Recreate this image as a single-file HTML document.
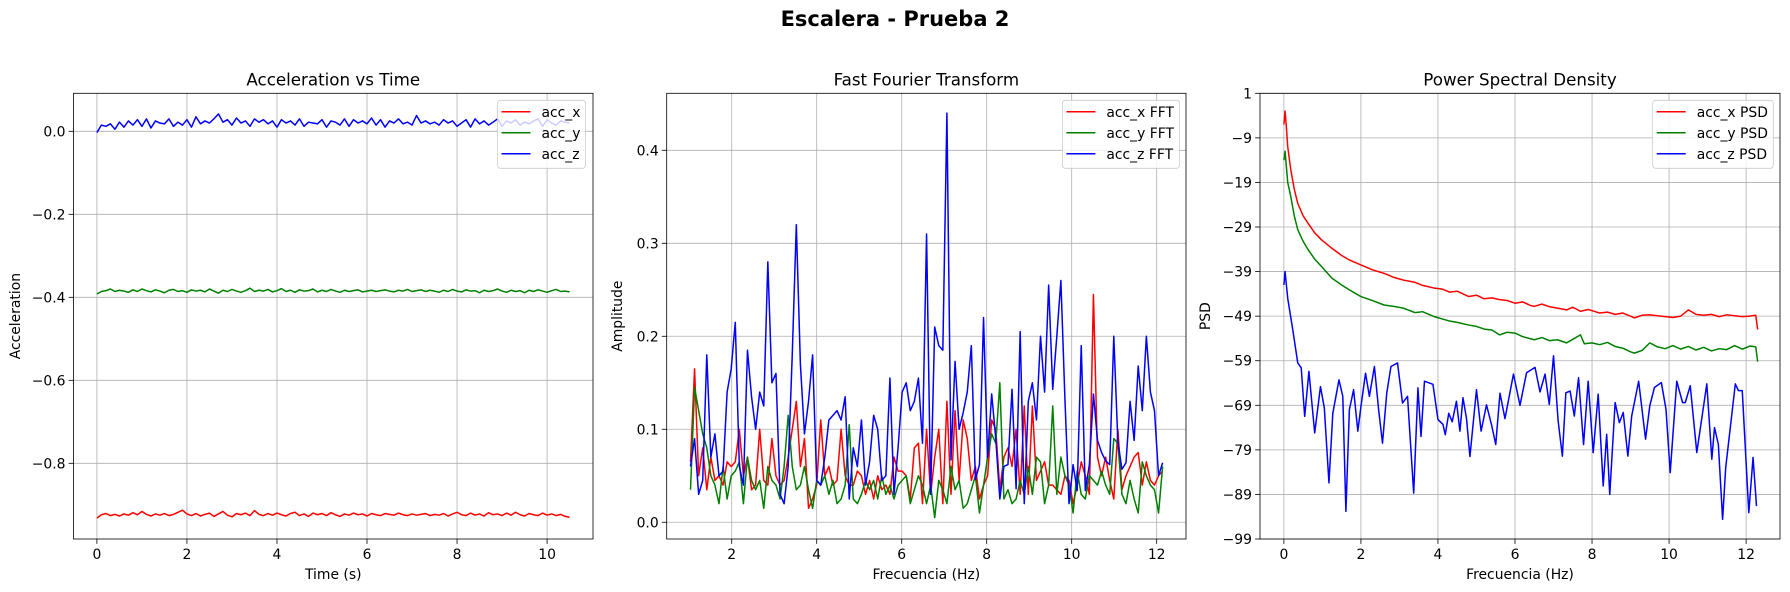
<!DOCTYPE html>
<html><head><meta charset="utf-8">
<style>
html,body{margin:0;padding:0;background:#fff;}
svg{display:block;font-family:"DejaVu Sans","Liberation Sans",sans-serif;}
</style></head>
<body>
<svg id="fig" width="1790" height="592" viewBox="0 0 1790 592" xmlns="http://www.w3.org/2000/svg">
<rect width="1790" height="592" fill="#fff"/>
<text x="895" y="26" text-anchor="middle" font-size="21" font-weight="bold">Escalera - Prueba 2</text>
</svg>
<script>
// ---------- Panel 1: acceleration vs time ----------
const accZ=[-0.003,0.015,0.012,0.018,0.005,0.022,0.01,0.025,0.015,0.028,0.012,0.03,0.008,0.025,0.02,0.018,0.03,0.012,0.022,0.015,0.028,0.01,0.035,0.018,0.025,0.02,0.03,0.042,0.022,0.028,0.015,0.032,0.02,0.025,0.012,0.03,0.022,0.028,0.018,0.025,0.01,0.028,0.02,0.025,0.015,0.03,0.012,0.022,0.02,0.018,0.028,0.01,0.025,0.022,0.015,0.03,0.012,0.028,0.02,0.025,0.018,0.032,0.015,0.028,0.01,0.025,0.02,0.03,0.018,0.022,0.015,0.038,0.02,0.025,0.018,0.022,0.015,0.028,0.02,0.025,0.012,0.02,0.028,0.01,0.03,0.018,0.025,0.015,0.022,0.03,0.012,0.025,0.02,0.028,0.015,0.022,0.018,0.025,0.03,0.012,0.028,0.02,0.015,0.025,0.022,0.02];
const accY=[-0.392,-0.386,-0.384,-0.38,-0.386,-0.383,-0.385,-0.388,-0.382,-0.386,-0.38,-0.384,-0.387,-0.382,-0.385,-0.389,-0.383,-0.381,-0.386,-0.384,-0.388,-0.382,-0.385,-0.383,-0.387,-0.38,-0.385,-0.39,-0.383,-0.386,-0.381,-0.385,-0.388,-0.384,-0.378,-0.386,-0.383,-0.385,-0.381,-0.387,-0.384,-0.379,-0.386,-0.383,-0.388,-0.382,-0.385,-0.384,-0.38,-0.387,-0.383,-0.386,-0.381,-0.385,-0.388,-0.383,-0.386,-0.384,-0.382,-0.387,-0.385,-0.383,-0.386,-0.384,-0.382,-0.385,-0.387,-0.383,-0.385,-0.381,-0.386,-0.384,-0.382,-0.386,-0.383,-0.385,-0.388,-0.383,-0.386,-0.381,-0.385,-0.387,-0.382,-0.385,-0.384,-0.389,-0.383,-0.386,-0.384,-0.38,-0.385,-0.388,-0.383,-0.386,-0.384,-0.389,-0.383,-0.386,-0.382,-0.385,-0.388,-0.384,-0.381,-0.386,-0.385,-0.387];
const accX=[-0.932,-0.924,-0.921,-0.926,-0.923,-0.927,-0.922,-0.925,-0.919,-0.924,-0.916,-0.923,-0.927,-0.922,-0.925,-0.921,-0.926,-0.923,-0.918,-0.913,-0.922,-0.926,-0.921,-0.927,-0.923,-0.92,-0.928,-0.922,-0.916,-0.925,-0.929,-0.921,-0.924,-0.92,-0.926,-0.914,-0.923,-0.926,-0.921,-0.925,-0.92,-0.924,-0.927,-0.921,-0.918,-0.926,-0.922,-0.928,-0.92,-0.924,-0.921,-0.926,-0.919,-0.924,-0.928,-0.922,-0.925,-0.92,-0.924,-0.922,-0.927,-0.921,-0.924,-0.926,-0.921,-0.923,-0.925,-0.92,-0.924,-0.926,-0.922,-0.925,-0.923,-0.921,-0.926,-0.923,-0.925,-0.921,-0.927,-0.922,-0.918,-0.924,-0.926,-0.92,-0.925,-0.922,-0.927,-0.919,-0.924,-0.922,-0.926,-0.92,-0.925,-0.918,-0.924,-0.927,-0.921,-0.924,-0.926,-0.92,-0.925,-0.922,-0.926,-0.923,-0.928,-0.93];
const timeStart=0, timeEnd=10.5;
const accXTicks=[0,2,4,6,8,10];
const accYTicks=[0,-0.2,-0.4,-0.6,-0.8];
const accYTickLabels=["0.0","\u22120.2","\u22120.4","\u22120.6","\u22120.8"];

// ---------- Panel 2: FFT ----------
const fftStart=1.03, fftEnd=12.14;
const fftZ=[0.06,0.09,0.03,0.045,0.18,0.07,0.095,0.05,0.055,0.14,0.165,0.215,0.06,0.04,0.185,0.135,0.1,0.14,0.125,0.28,0.15,0.16,0.03,0.02,0.06,0.18,0.32,0.17,0.095,0.13,0.18,0.045,0.04,0.07,0.11,0.115,0.12,0.11,0.135,0.025,0.08,0.06,0.11,0.04,0.065,0.115,0.1,0.045,0.05,0.155,0.03,0.08,0.14,0.15,0.12,0.13,0.155,0.085,0.31,0.03,0.21,0.19,0.185,0.44,0.067,0.173,0.1,0.118,0.14,0.19,0.046,0.062,0.22,0.07,0.138,0.09,0.025,0.06,0.062,0.143,0.036,0.205,0.02,0.13,0.15,0.11,0.2,0.14,0.255,0.143,0.2,0.26,0.132,0.02,0.062,0.034,0.19,0.034,0.062,0.138,0.088,0.075,0.066,0.062,0.2,0.087,0.057,0.064,0.13,0.088,0.168,0.12,0.2,0.14,0.12,0.05,0.064];
const fftX=[0.065,0.165,0.05,0.08,0.035,0.07,0.045,0.05,0.04,0.065,0.06,0.065,0.1,0.05,0.07,0.035,0.04,0.1,0.045,0.04,0.09,0.05,0.04,0.045,0.07,0.1,0.13,0.06,0.09,0.015,0.025,0.04,0.11,0.05,0.06,0.04,0.045,0.1,0.05,0.04,0.04,0.055,0.05,0.03,0.045,0.025,0.05,0.035,0.04,0.03,0.07,0.055,0.055,0.05,0.025,0.08,0.085,0.02,0.1,0.03,0.07,0.1,0.02,0.13,0.03,0.12,0.045,0.11,0.09,0.045,0.06,0.025,0.04,0.05,0.11,0.1,0.035,0.07,0.08,0.06,0.1,0.03,0.125,0.03,0.125,0.045,0.055,0.065,0.04,0.04,0.035,0.03,0.05,0.045,0.02,0.04,0.065,0.05,0.03,0.245,0.07,0.05,0.07,0.045,0.025,0.1,0.035,0.05,0.06,0.07,0.075,0.04,0.065,0.045,0.04,0.05,0.055];
const fftY=[0.035,0.145,0.12,0.095,0.08,0.05,0.04,0.02,0.06,0.025,0.05,0.055,0.065,0.02,0.07,0.045,0.035,0.045,0.015,0.06,0.045,0.04,0.025,0.06,0.115,0.06,0.035,0.04,0.06,0.035,0.015,0.045,0.04,0.05,0.03,0.045,0.02,0.025,0.04,0.105,0.025,0.02,0.03,0.045,0.035,0.045,0.025,0.05,0.03,0.04,0.025,0.04,0.045,0.05,0.02,0.035,0.05,0.04,0.02,0.04,0.005,0.045,0.035,0.02,0.06,0.035,0.045,0.015,0.02,0.035,0.05,0.01,0.04,0.07,0.095,0.085,0.15,0.025,0.035,0.02,0.025,0.045,0.03,0.06,0.03,0.07,0.065,0.02,0.04,0.125,0.03,0.07,0.05,0.04,0.01,0.055,0.03,0.025,0.05,0.045,0.04,0.055,0.04,0.03,0.09,0.085,0.03,0.02,0.045,0.025,0.01,0.065,0.05,0.04,0.035,0.01,0.06];
const fftXTicks=[2,4,6,8,10,12];
const fftYTicks=[0,0.1,0.2,0.3,0.4];
const fftYTickLabels=["0.0","0.1","0.2","0.3","0.4"];

// ---------- Panel 3: PSD ----------
const psdRedF=[0,0.03,0.06,0.1,0.18,0.27,0.36,0.5,0.63,0.8,0.98,1.25,1.5,1.7,2.0,2.3,2.6,2.85,3.1,3.4,3.6,3.9,4.1,4.3,4.5,4.8,5.0,5.2,5.4,5.6,5.8,6.0,6.2,6.4,6.5,6.7,6.9,7.1,7.34,7.5,7.7,7.9,8.2,8.4,8.6,8.8,9.0,9.1,9.3,9.5,9.7,9.9,10.1,10.3,10.5,10.7,10.9,11.1,11.3,11.5,11.7,11.9,12.1,12.25,12.3];
const psdRed=[-6,-3,-6,-11,-16.2,-20.5,-23.7,-26.5,-28.2,-30.3,-31.9,-33.8,-35.4,-36.4,-37.5,-38.6,-39.4,-40.3,-40.9,-41.4,-42.1,-42.7,-42.9,-43.6,-43.4,-44.6,-44.3,-45.1,-44.9,-45.3,-45.5,-46.1,-45.8,-46.6,-46.8,-46.3,-46.9,-47.2,-47.6,-47.0,-47.9,-47.5,-48.3,-48.1,-48.6,-48.3,-49.0,-49.4,-48.8,-48.7,-48.9,-49.1,-49.3,-49.0,-47.6,-48.6,-48.8,-48.6,-49.1,-48.7,-48.9,-49.1,-49.0,-48.8,-52];
const psdGreenF=[0,0.03,0.06,0.1,0.18,0.27,0.36,0.5,0.63,0.8,0.98,1.25,1.5,1.7,2.0,2.3,2.6,2.85,3.1,3.4,3.6,3.9,4.1,4.3,4.5,4.8,5.0,5.2,5.4,5.6,5.8,6.0,6.2,6.5,6.7,6.9,7.1,7.34,7.5,7.7,7.8,8.0,8.2,8.4,8.6,8.8,9.0,9.1,9.3,9.5,9.7,9.9,10.1,10.3,10.5,10.7,10.9,11.1,11.3,11.5,11.7,11.9,12.1,12.25,12.3];
const psdGreen=[-14,-12,-15,-19,-22.2,-26.5,-29.6,-32.2,-34.1,-36.2,-37.9,-40.5,-42,-43.1,-44.6,-45.5,-46.5,-46.8,-47.2,-48.2,-48.0,-49.1,-49.6,-50.1,-50.4,-51,-51.3,-51.9,-52.1,-53.2,-52.6,-52.8,-53.6,-54.3,-53.8,-54.5,-54.3,-55,-54.2,-53.2,-55.2,-55.0,-55.4,-54.9,-55.8,-56.2,-57.0,-57.3,-56.7,-55.0,-55.9,-56.3,-55.6,-56.4,-55.8,-56.6,-56.0,-56.8,-56.3,-56.5,-55.6,-56.4,-55.7,-55.9,-59.2];
const psdBlueF=[0,0.03,0.1,0.23,0.36,0.45,0.54,0.65,0.8,0.95,1.05,1.17,1.27,1.43,1.53,1.61,1.7,1.81,1.92,2.0,2.12,2.22,2.35,2.46,2.56,2.67,2.78,2.95,3.08,3.21,3.37,3.48,3.56,3.65,3.87,4.0,4.13,4.19,4.28,4.37,4.48,4.57,4.65,4.74,4.83,5.0,5.12,5.26,5.4,5.5,5.61,5.74,5.96,6.13,6.3,6.52,6.65,6.78,6.89,7.0,7.12,7.23,7.32,7.43,7.54,7.65,7.78,7.9,8.03,8.16,8.29,8.38,8.46,8.6,8.71,8.81,8.93,9.03,9.21,9.39,9.5,9.62,9.8,9.92,10.03,10.2,10.35,10.42,10.55,10.72,10.98,11.11,11.18,11.28,11.39,11.47,11.72,11.8,11.9,12.07,12.18,12.27];
const psdBlue=[-42,-39,-45,-52,-59.5,-60.6,-71.5,-61.4,-75.2,-64.8,-69.6,-86.4,-70.8,-63.3,-67,-92.8,-70,-65.5,-74.8,-69.3,-61.8,-67,-60.3,-70,-77.5,-66.3,-60.3,-59.5,-68.5,-67,-88.7,-65.1,-76,-63.6,-64.3,-72.2,-73.3,-75.6,-70.8,-72.7,-68.1,-74.8,-67.3,-71.9,-80.5,-65.5,-74.8,-68.9,-73.7,-77.8,-66.3,-72,-62,-69,-61.7,-60.5,-66,-62,-68.8,-57.9,-72.5,-80.4,-66.2,-65.8,-71.4,-62.8,-77.8,-63.6,-79.6,-66.5,-87.1,-75.5,-89,-68.4,-72.9,-70.6,-80.4,-71.4,-63.6,-76.6,-69.1,-65,-63.9,-69.9,-84.1,-63.6,-68.4,-68.4,-64.6,-79.6,-64.2,-81.1,-74,-77.8,-94.6,-83,-64.2,-65.7,-65.7,-93.1,-80.7,-91.6];
const psdXTicks=[0,2,4,6,8,10,12];
const psdYTicks=[1,-9,-19,-29,-39,-49,-59,-69,-79,-89,-99];
const psdYTickLabels=["1","\u22129","\u221219","\u221229","\u221239","\u221249","\u221259","\u221269","\u221279","\u221289","\u221299"];

const NS="http://www.w3.org/2000/svg";
const fig=document.getElementById('fig');
function mk(tag,attrs,parent){const e=document.createElementNS(NS,tag);for(const k in attrs)e.setAttribute(k,attrs[k]);(parent||fig).appendChild(e);return e;}
function evenX(n,a,b){const r=[];for(let i=0;i<n;i++)r.push(a+(b-a)*i/(n-1));return r;}

function panel(cfg){
  const g=mk('g',{});
  
  
  const L=cfg.box[0],T=cfg.box[1],R=cfg.box[2],B=cfg.box[3];
  const sx=v=>L+(v-cfg.xlim[0])/(cfg.xlim[1]-cfg.xlim[0])*(R-L);
  const sy=v=>B-(v-cfg.ylim[0])/(cfg.ylim[1]-cfg.ylim[0])*(B-T);
  // grid + ticks
  cfg.xticks.forEach((v,i)=>{
    const x=sx(v);
    const gl=mk('line',{x1:x,x2:x,y1:T,y2:B,stroke:'#b0b0b0','stroke-width':0.8},g);
    
    
    mk('line',{x1:x,x2:x,y1:B,y2:B+4.9,stroke:'#000','stroke-width':0.8},g);
    const t=mk('text',{x:x,y:B+20,'text-anchor':'middle','font-size':13.9},g);
    
    
    t.textContent=String(v);
  });
  cfg.yticks.forEach((v,i)=>{
    const y=sy(v);
    const gl=mk('line',{x1:L,x2:R,y1:y,y2:y,stroke:'#b0b0b0','stroke-width':0.8},g);
    
    
    mk('line',{x1:L-4.9,x2:L,y1:y,y2:y,stroke:'#000','stroke-width':0.8},g);
    const t=mk('text',{x:L-8,y:y+5,'text-anchor':'end','font-size':13.9},g);
    
    
    t.textContent=cfg.ylabels[i];
  });
  const clipId='clip-'+cfg.name;
  const cp=mk('clipPath',{id:clipId},g);mk('rect',{x:L,y:T,width:R-L,height:B-T},cp);
  cfg.series.forEach(s=>{
    const d=s.x.map((xv,i)=>(i?'L':'M')+sx(xv).toFixed(2)+' '+sy(s.y[i]).toFixed(2)).join(' ');
    const p=mk('path',{d:d,fill:'none',stroke:s.color,'stroke-width':1.5,'stroke-linejoin':'round','clip-path':'url(#'+clipId+')'},g);
    
    
  });
  const fr=mk('rect',{x:L,y:T,width:R-L,height:B-T,fill:'none',stroke:'#000','stroke-width':0.8},g);
  
  
  const tt=mk('text',{x:(L+R)/2,y:T-8,'text-anchor':'middle','font-size':16.7},g);
  
  
  tt.textContent=cfg.title;
  const xl=mk('text',{x:(L+R)/2,y:B+40,'text-anchor':'middle','font-size':13.9},g);
  
  
  xl.textContent=cfg.xlabel;
  const yl=mk('text',{x:cfg.ylabelX,y:(T+B)/2,'text-anchor':'middle','font-size':13.9,transform:'rotate(-90 '+cfg.ylabelX+' '+(T+B)/2+')'},g);
  
  
  yl.textContent=cfg.ylabel;
  // legend
  const lg=mk('g',{},g);
  
  
  const lx=cfg.legend[0],lr=cfg.legend[1];
  mk('rect',{x:lx,y:T+7,width:lr-lx,height:68,rx:3,fill:'#fff','fill-opacity':0.8,stroke:'#cccccc','stroke-width':0.8},lg);
  cfg.series.forEach((s,i)=>{
    const y=T+18.5+i*21;
    const ln=mk('line',{x1:lx+4,x2:lx+33,y1:y,y2:y,stroke:s.color,'stroke-width':1.5},lg);
    
    
    const tx=mk('text',{x:lx+44,y:y+5,'font-size':13.9},lg);
    
    
    tx.textContent=s.label;
  });
}

const tAcc=evenX(accX.length,timeStart,timeEnd);
panel({name:'acceleration-panel',box:[73.5,93.3,593,539],xlim:[-0.52,11.02],ylim:[-0.9824,0.0916],
  xticks:accXTicks,yticks:accYTicks,ylabels:accYTickLabels,title:'Acceleration vs Time',xlabel:'Time (s)',ylabel:'Acceleration',ylabelX:20,
  legend:[497.5,585.5],
  series:[{name:'acc-x-line',label:'acc_x',color:'#ff0000',x:tAcc,y:accX},{name:'acc-y-line',label:'acc_y',color:'#008000',x:evenX(accY.length,timeStart,timeEnd),y:accY},{name:'acc-z-line',label:'acc_z',color:'#0000ff',x:evenX(accZ.length,timeStart,timeEnd),y:accZ}]});

panel({name:'fft-panel',box:[666.7,93.3,1186,539],xlim:[0.47,12.69],ylim:[-0.018,0.4613],
  xticks:fftXTicks,yticks:fftYTicks,ylabels:fftYTickLabels,title:'Fast Fourier Transform',xlabel:'Frecuencia (Hz)',ylabel:'Amplitude',ylabelX:622,
  legend:[1062.4,1179.5],
  series:[{name:'fft-x-line',label:'acc_x FFT',color:'#ff0000',x:evenX(fftX.length,fftStart,fftEnd),y:fftX},{name:'fft-y-line',label:'acc_y FFT',color:'#008000',x:evenX(fftY.length,fftStart,fftEnd),y:fftY},{name:'fft-z-line',label:'acc_z FFT',color:'#0000ff',x:evenX(fftZ.length,fftStart,fftEnd),y:fftZ}]});

panel({name:'psd-panel',box:[1260,93.3,1780,539],xlim:[-0.62,12.88],ylim:[-99,1],
  xticks:psdXTicks,yticks:psdYTicks,ylabels:psdYTickLabels,title:'Power Spectral Density',xlabel:'Frecuencia (Hz)',ylabel:'PSD',ylabelX:1210,
  legend:[1652.7,1773.3],
  series:[{name:'psd-x-line',label:'acc_x PSD',color:'#ff0000',x:psdRedF,y:psdRed},{name:'psd-y-line',label:'acc_y PSD',color:'#008000',x:psdGreenF,y:psdGreen},{name:'psd-z-line',label:'acc_z PSD',color:'#0000ff',x:psdBlueF,y:psdBlue}]});
</script>
</body></html>
